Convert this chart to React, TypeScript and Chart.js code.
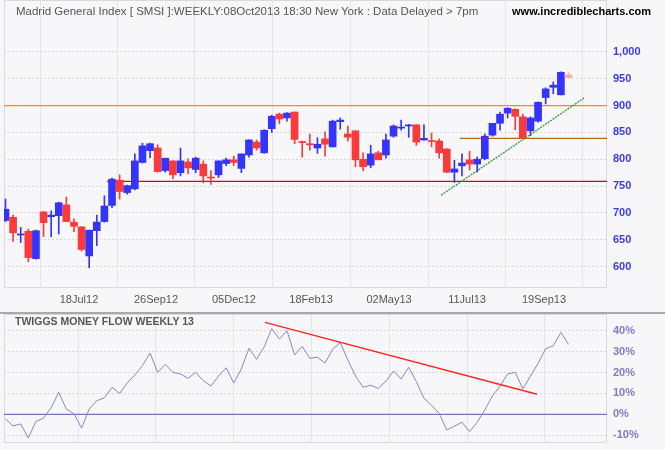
import React, { useEffect, useRef } from 'react';
import { Chart, registerables } from 'chart.js';

Chart.register(...registerables);

// ---------- data ----------
const weeks = [
  0, 1, 2, 3, 4, 5, 6, 7, 8, 9, 10, 11, 12, 13, 14, 15, 16, 17, 18, 19, 20, 21, 22, 23, 24,
  25, 26, 27, 28, 29, 30, 31, 32, 33, 34, 35, 36, 37, 38, 39, 40, 41, 42, 43, 44, 45, 46, 47, 48, 49,
  50, 51, 52, 53, 54, 55, 56, 57, 58, 59, 60, 61, 62, 63, 64, 65, 66, 67, 68, 69, 70, 71, 72, 73, 74,
];
const opens = [
  686, 692, 659, 666, 615, 702, 693, 695, 715, 683, 674, 620, 667, 684, 714, 761, 738, 745, 794, 816,
  821, 779, 797, 775, 795, 781, 791, 767, 771, 792, 799, 783, 808, 832, 812, 857, 884, 877, 888, 833,
  829, 821, 838, 823, 870, 847, 853, 800, 789, 812, 808, 843, 858, 862, 864, 836, 835, 834, 819, 776,
  788, 799, 791, 801, 845, 867, 886, 893, 879, 853, 871, 915, 934, 920, 957,
];
const highs = [
  726, 696, 673, 670, 668, 703, 704, 720, 730, 689, 675, 668, 696, 732, 765, 771, 752, 810, 830, 830,
  827, 802, 797, 821, 801, 804, 797, 779, 797, 802, 806, 810, 836, 836, 855, 882, 886, 887, 888, 834,
  847, 840, 851, 873, 877, 862, 853, 812, 826, 815, 847, 864, 873, 865, 865, 864, 849, 838, 820, 798,
  810, 815, 804, 847, 867, 888, 896, 894, 884, 879, 907, 933, 944, 963, 961,
];
const lows = [
  684, 647, 645, 609, 614, 656, 656, 661, 684, 665, 629, 598, 639, 683, 710, 726, 735, 743, 793, 803,
  776, 776, 764, 769, 773, 775, 756, 753, 766, 788, 788, 775, 804, 817, 811, 850, 866, 871, 829, 804,
  817, 811, 806, 823, 856, 834, 786, 779, 784, 799, 802, 841, 854, 841, 826, 835, 823, 802, 775, 757,
  769, 780, 776, 799, 843, 854, 877, 855, 838, 844, 869, 903, 922, 920, 952,
];
const closes = [
  707, 663, 661, 617, 667, 682, 696, 719, 684, 675, 632, 668, 683, 713, 763, 740, 751, 797, 825, 829,
  777, 802, 771, 797, 784, 802, 769, 765, 797, 799, 794, 810, 836, 821, 854, 880, 875, 886, 837, 831,
  827, 828, 828, 871, 873, 841, 799, 786, 810, 799, 836, 862, 860, 864, 832, 839, 833, 812, 776, 782,
  793, 791, 800, 843, 867, 884, 895, 880, 839, 877, 906, 931, 938, 962, 952,
];
const moneyFlow = [
  -2.2, -5.6, -4.6, -11.3, -3.4, -1.8, 3.2, 10.5, 2.5, 0.3, -6.6, 2.5, 6.5, 7.9, 12.9, 10, 15, 18.8, 23.3, 29.3,
  20.1, 23.9, 20.1, 19.3, 17.2, 20.1, 16.1, 13.5, 18.3, 22.3, 15, 21.7, 31.6, 26.3, 32.3, 41, 36, 40, 28.4, 32.5,
  26.8, 27.3, 24.5, 31.1, 34.3, 26, 18.3, 12.9, 13.9, 12.4, 15.9, 20.7, 16.9, 22.5, 15.6, 7.7, 4.3, 0.5, -7.5, -5.7,
  -3.8, -8.3, -3.8, 2.1, 8.8, 13.5, 19.3, 20.1, 12.2, 18.3, 24.4, 31.4, 32.8, 39.2, 33.5,
];

const tickLabels = ['18Jul12', '26Sep12', '05Dec12', '18Feb13', '02May13', '11Jul13', '19Sep13'];
const tickWeeks = [9.66, 19.78, 30.03, 40.16, 50.41, 60.66, 70.78];
const priceTicks = [600, 650, 700, 750, 800, 850, 900, 950, 1000];
const flowTicks = [-10, 0, 10, 20, 30, 40];

// support / resistance / trend lines (week index, value)
const resistance900 = [{ x: -0.2, y: 900 }, { x: 79.06, y: 900 }];
const support839 = [{ x: 59.74, y: 839 }, { x: 79.06, y: 839 }];
const support759 = [{ x: 13.34, y: 759 }, { x: 79.06, y: 759 }];
const upTrend = [{ x: 57.24, y: 733 }, { x: 76.04, y: 914 }];
const flowTrend = [{ x: 34.1, y: 44 }, { x: 69.86, y: 9.6 }];
const flowZero = [{ x: -0.2, y: 0 }, { x: 79.06, y: 0 }];

const X_MIN = -0.197;
const X_MAX = 79.06;

const BG = '#f7f7f9';
const SANS = '"Liberation Sans", Arial, sans-serif';

const framePlugin = {
  id: 'frame',
  beforeDatasetsDraw(chart: any) {
    const { ctx, chartArea: a } = chart;
    ctx.save();
    ctx.strokeStyle = '#dadade';
    ctx.lineWidth = 1;
    ctx.strokeRect(Math.round(a.left) + 0.5, Math.round(a.top) + 0.5, Math.round(a.width) - 1, Math.round(a.height) - 1);
    ctx.restore();
  },
};

function candleColor(i: number) {
  const up = closes[i] >= opens[i];
  if (i === weeks.length - 1) return up ? '#aaaaff' : '#ffaaaa';
  return up ? '#3434fc' : '#fc3a3a';
}

function noPad(s: any) {
  s.paddingTop = 0;
  s.paddingBottom = 0;
  s.paddingLeft = 0;
  s.paddingRight = 0;
}

const xScale = (showLabels: boolean, height: number) => ({
  type: 'linear',
  min: X_MIN,
  max: X_MAX,
  offset: false,
  afterBuildTicks: (s: any) => {
    s.ticks = tickWeeks.map((v) => ({ value: v }));
  },
  afterFit: (s: any) => {
    s.height = height;
    noPad(s);
  },
  grid: { color: '#e4e4e9', lineWidth: 1, drawTicks: false },
  border: { display: false },
  ticks: {
    display: showLabels,
    autoSkip: false,
    maxRotation: 0,
    padding: 5,
    color: '#555555',
    font: { family: SANS, size: 11 },
    callback: (v: number) => {
      const k = tickWeeks.indexOf(v);
      return k >= 0 ? tickLabels[k] : '';
    },
  },
});

function PriceChart() {
  const ref = useRef<HTMLCanvasElement>(null);
  useEffect(() => {
    const colors = weeks.map((i) => candleColor(i));
    const chart = new Chart(ref.current as HTMLCanvasElement, {
      type: 'bar',
      data: {
        datasets: [
          {
            label: 'body',
            data: weeks.map((i) => ({ x: i, y: [opens[i], closes[i]] })),
            backgroundColor: colors,
            borderWidth: 0,
            barThickness: 7,
            grouped: false,
            minBarLength: 1,
            order: 1,
          } as any,
          {
            label: 'wick',
            data: weeks.map((i) => ({ x: i, y: [lows[i], highs[i]] })),
            backgroundColor: colors,
            borderWidth: 0,
            barThickness: 1,
            grouped: false,
            minBarLength: 1,
            order: 2,
          } as any,
          { type: 'line', data: resistance900, borderColor: '#ff8c00', borderWidth: 1.2, pointRadius: 0, order: 3 } as any,
          { type: 'line', data: support839, borderColor: '#c86400', borderWidth: 1.2, pointRadius: 0, order: 3 } as any,
          { type: 'line', data: support759, borderColor: '#e00000', borderWidth: 1.2, pointRadius: 0, order: 3 } as any,
          {
            type: 'line', data: upTrend, borderColor: '#2f9a2f', borderWidth: 1.3, borderDash: [2, 1], pointRadius: 0, order: 0,
          } as any,
        ],
      },
      options: {
        animation: false,
        responsive: false,
        maintainAspectRatio: false,
        layout: { padding: { left: 4, top: 0, right: 0, bottom: 0 } },
        plugins: { legend: { display: false }, tooltip: { enabled: false } },
        scales: {
          x: xScale(true, 24) as any,
          y: {
            position: 'right',
            min: 560.3,
            max: 1096.6,
            afterBuildTicks: (s: any) => {
              s.ticks = priceTicks.map((v) => ({ value: v }));
            },
            afterFit: (s: any) => {
              s.width = 58;
              noPad(s);
            },
            grid: { color: '#d9d9dc', lineWidth: 1, drawTicks: false },
            border: { display: false, dash: [2, 2] },
            ticks: {
              padding: 6,
              color: '#3b3bea',
              font: { family: SANS, size: 11, weight: 'bold' },
              callback: (v: number) => v.toLocaleString('en-US'),
            },
          } as any,
        },
      },
      plugins: [framePlugin],
    });
    return () => chart.destroy();
  }, []);
  return <canvas ref={ref} width={665} height={312} style={{ position: 'absolute', left: 0, top: 0, width: 665, height: 312 }} />;
}

function FlowChart() {
  const ref = useRef<HTMLCanvasElement>(null);
  useEffect(() => {
    const chart = new Chart(ref.current as HTMLCanvasElement, {
      type: 'line',
      data: {
        datasets: [
          { data: flowTrend, borderColor: '#ff2424', borderWidth: 1.4, pointRadius: 0, order: 0 } as any,
          {
            data: weeks.map((i) => ({ x: i, y: moneyFlow[i] })),
            borderColor: '#8585c9',
            borderWidth: 1,
            pointRadius: 0,
            tension: 0,
            order: 1,
          } as any,
          { data: flowZero, borderColor: '#7272c6', borderWidth: 1.2, pointRadius: 0, order: 2 } as any,
        ],
      },
      options: {
        animation: false,
        responsive: false,
        maintainAspectRatio: false,
        layout: { padding: { left: 4, top: 0, right: 0, bottom: 0 } },
        plugins: { legend: { display: false }, tooltip: { enabled: false } },
        scales: {
          x: xScale(false, 7) as any,
          y: {
            position: 'right',
            min: -13.73,
            max: 48,
            afterBuildTicks: (s: any) => {
              s.ticks = flowTicks.map((v) => ({ value: v }));
            },
            afterFit: (s: any) => {
              s.width = 58;
              noPad(s);
            },
            grid: { color: '#d9d9dc', lineWidth: 1, drawTicks: false },
            border: { display: false, dash: [2, 2] },
            ticks: {
              padding: 6,
              color: '#7c7ccb',
              font: { family: SANS, size: 11, weight: 'bold' },
              callback: (v: number) => `${v}%`,
            },
          } as any,
        },
      },
      plugins: [framePlugin],
    });
    return () => chart.destroy();
  }, []);
  return <canvas ref={ref} width={665} height={136} style={{ position: 'absolute', left: 0, top: 314, width: 665, height: 136 }} />;
}

export default function App() {
  return (
    <div style={{ position: 'fixed', left: 0, top: 0, width: 665, height: 450, background: BG, overflow: 'hidden' }}>
      <PriceChart />
      <div style={{ position: 'absolute', left: 0, top: 312, width: 665, height: 2, background: '#a9a9ad' }} />
      <FlowChart />
      <div
        style={{
          position: 'absolute', left: 16, top: 4, font: `11.5px ${SANS}`, lineHeight: '14px', color: '#555555', whiteSpace: 'nowrap',
        }}
      >
        Madrid General Index [ SMSI ]:WEEKLY:08Oct2013 18:30 New York : Data Delayed &gt; 7pm
      </div>
      <div
        style={{
          position: 'absolute', right: 14, top: 4, font: `bold 11px ${SANS}`, lineHeight: '14px', color: '#000000', whiteSpace: 'nowrap',
        }}
      >
        www.incrediblecharts.com
      </div>
      <div
        style={{
          position: 'absolute', left: 15, top: 315, font: `bold 10.5px ${SANS}`, lineHeight: '13px', color: '#555555', whiteSpace: 'nowrap',
        }}
      >
        TWIGGS MONEY FLOW WEEKLY 13
      </div>
    </div>
  );
}
